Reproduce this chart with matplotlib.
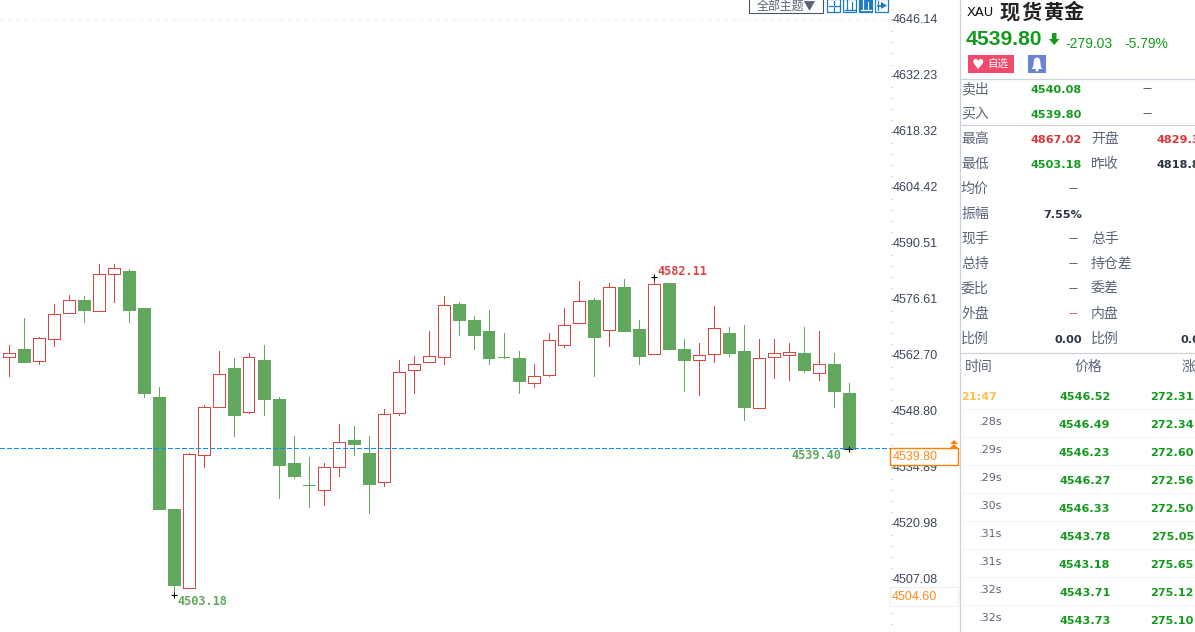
import matplotlib
matplotlib.use("Agg")
import matplotlib.pyplot as plt
from matplotlib.patches import Rectangle, Polygon, Circle
from matplotlib.ticker import AutoMinorLocator
from matplotlib.transforms import ScaledTranslation

CJK = ["Noto Sans CJK SC", "DejaVu Sans"]
plt.rcParams["font.family"] = CJK

# candle values
opens = [4562.3, 4564.4, 4561.3, 4566.8, 4573.2, 4576.6, 4573.7, 4582.9, 4583.8, 4574.4,
         4552.5, 4524.5, 4504.9, 4538.0, 4549.9, 4559.7, 4548.6, 4561.7, 4552.0, 4535.9,
         4530.6, 4529.3, 4535.0, 4541.6, 4538.4, 4531.2, 4548.4, 4559.1, 4561.0, 4562.3,
         4575.6, 4571.6, 4568.9, 4562.4, 4562.2, 4555.8, 4557.8, 4565.3, 4570.7, 4576.6,
         4569.0, 4579.6, 4569.2, 4563.0, 4580.6, 4564.2, 4561.5, 4563.0, 4568.4, 4563.7,
         4549.6, 4562.3, 4562.8, 4563.4, 4558.3, 4560.7, 4553.5]
highs = [4565.4, 4572.1, 4567.4, 4575.6, 4577.8, 4577.4, 4585.3, 4585.5, 4584.1, 4574.6,
         4554.8, 4524.7, 4538.6, 4550.3, 4563.7, 4562.0, 4563.2, 4565.2, 4552.3, 4542.8,
         4537.4, 4536.1, 4545.6, 4545.3, 4542.8, 4549.5, 4561.7, 4562.5, 4568.9, 4577.4,
         4576.1, 4572.4, 4574.1, 4568.4, 4563.7, 4560.7, 4568.4, 4574.4, 4581.1, 4576.9,
         4580.6, 4581.6, 4571.6, 4582.11, 4580.8, 4566.7, 4565.9, 4574.9, 4569.7, 4570.2,
         4566.7, 4566.7, 4565.9, 4569.9, 4568.9, 4563.2, 4555.8]
lows = [4557.5, 4561.2, 4560.7, 4565.0, 4573.2, 4571.1, 4573.7, 4575.9, 4571.1, 4552.5,
        4524.7, 4503.18, 4504.9, 4534.9, 4549.9, 4542.6, 4548.3, 4547.8, 4527.4, 4532.4,
        4525.0, 4525.5, 4532.9, 4537.9, 4523.7, 4530.2, 4548.0, 4553.5, 4561.0, 4560.7,
        4567.9, 4564.2, 4560.5, 4562.0, 4553.5, 4554.8, 4557.5, 4564.7, 4570.7, 4557.7,
        4565.0, 4568.9, 4560.7, 4563.0, 4564.2, 4553.8, 4552.8, 4561.0, 4562.5, 4546.6,
        4549.6, 4557.2, 4556.7, 4558.5, 4556.5, 4550.0, 4539.4]
closes = [4563.4, 4561.2, 4567.1, 4573.1, 4576.5, 4574.1, 4583.0, 4584.5, 4574.1, 4553.3,
          4524.7, 4505.6, 4538.3, 4550.0, 4558.2, 4547.8, 4562.4, 4552.0, 4535.6, 4532.7,
          4530.6, 4535.1, 4541.3, 4540.6, 4530.7, 4548.2, 4558.7, 4560.6, 4562.6, 4575.3,
          4571.6, 4567.7, 4562.2, 4562.4, 4556.3, 4557.7, 4566.6, 4570.3, 4576.3, 4567.4,
          4579.8, 4568.9, 4562.5, 4580.5, 4564.2, 4561.5, 4562.9, 4569.6, 4563.2, 4549.8,
          4562.1, 4563.4, 4563.6, 4559.0, 4560.6, 4554.0, 4539.4]

y_ticks = [4646.14, 4632.23, 4618.32, 4604.42, 4590.51, 4576.61, 4562.70, 4548.80, 4534.89, 4520.98, 4507.08]
last_price = 4539.80
low_idx, high_idx, last_idx = 11, 43, 56

# side panel text
quote_rows = [("卖出", "4540.08", "g"), ("买入", "4539.80", "g"), ("最高", "4867.02", "r"), ("最低", "4503.18", "g"),
              ("均价", "—", "k"), ("振幅", "7.55%", "k"), ("现手", "—", "k"), ("总持", "—", "k"),
              ("委比", "—", "k"), ("外盘", "—", "r"), ("比例", "0.00", "k")]
quote_right = [(2, "开盘", "4829.33", "r"), (3, "昨收", "4818.83", "k"), (6, "总手", "", "k"),
               (7, "持仓差", "", "k"), (8, "委差", "", "k"), (9, "内盘", "", "k"), (10, "比例", "0.00", "k")]
tick_times = ["21:47", ".28s", ".29s", ".29s", ".30s", ".31s", ".31s", ".32s", ".32s"]
tick_prices = ["4546.52", "4546.49", "4546.23", "4546.27", "4546.33", "4543.78", "4543.18", "4543.71", "4543.73"]
tick_changes = ["272.31", "272.34", "272.60", "272.56", "272.50", "275.05", "275.65", "275.12", "275.10"]

RED = "#da4541"
GREEN = "#61a75e"
TXT_GREEN = "#149a1e"
TXT_RED = "#d9343a"
DARK = "#2c3648"
GREY = "#5a6478"
colors = {"g": TXT_GREEN, "r": TXT_RED, "k": DARK}

fig = plt.figure(figsize=(11.95, 6.32), dpi=100)
ax = fig.add_axes([0, 0, 891 / 1195, 1])
ax.set_xlim(-8.5 / 15, (891 - 8.5) / 15)
ax.set_ylim(4632.23 - 556.5 / 4.027, 4632.23 + 75.5 / 4.027)

for i in range(len(opens)):
    up = closes[i] > opens[i]
    c = RED if up else GREEN
    ax.vlines(i, lows[i], highs[i], color=c, lw=0.55, zorder=2, antialiased=False)
    bottom = min(opens[i], closes[i])
    height = abs(closes[i] - opens[i])
    ax.bar(i, height, 12 / 15, bottom=bottom, facecolor="white" if up else c, edgecolor=c, lw=0.55, zorder=3,
           antialiased=False)

ax.axhline(last_price, color="#0a8cff", lw=0.8, ls=(0, (3.6, 2.4)), zorder=4, antialiased=False)
ax.axhline(y_ticks[0], color="#eeeeee", lw=0.7, ls=(0, (4, 4)), zorder=1)

# extreme markers and labels
mono = dict(family="DejaVu Sans Mono", fontweight="bold", fontsize=8.6, va="center", annotation_clip=False)
ax.plot([low_idx, high_idx, last_idx], [lows[low_idx], highs[high_idx], closes[last_idx]], "+",
        color="black", ms=5, mew=0.8, zorder=6)
ax.plot([last_idx - 0.25, last_idx], [closes[last_idx]] * 2, color="black", lw=0.8, zorder=6)
ax.annotate(f"{lows[low_idx]:.2f}", (low_idx, lows[low_idx]), xytext=(3, -4.5), textcoords="offset points",
            color=GREEN, ha="left", **mono)
ax.annotate(f"{highs[high_idx]:.2f}", (high_idx, highs[high_idx]), xytext=(3, 4.5), textcoords="offset points",
            color=RED, ha="left", **mono)
ax.annotate(f"{closes[last_idx]:.2f}", (last_idx, closes[last_idx]), xytext=(-5, -4.3), textcoords="offset points",
            color=GREEN, ha="right", **mono)

for s in ax.spines.values():
    s.set_visible(False)
ax.set_xticks([])
ax.yaxis.tick_right()
ax.set_yticks(y_ticks)
ax.set_yticklabels([f"{v:.2f}" for v in y_ticks], family="Liberation Sans", fontsize=9, color="#3c4658")
ax.yaxis.set_minor_locator(AutoMinorLocator(5))
ax.tick_params(axis="y", which="major", length=1.5, width=0.7, color="#aaaaaa", pad=0)
ax.tick_params(axis="y", which="minor", length=0.8, width=0.7, color="#aaaaaa")
for lab in ax.get_yticklabels():
    lab.set_transform(lab.get_transform() + ScaledTranslation(0, 0.8 / 72, fig.dpi_scale_trans))

# everything outside the plot, in pixels
ov = fig.add_axes([0, 0, 1, 1], zorder=5)
ov.set_xlim(0, 1195)
ov.set_ylim(632, 0)
ov.axis("off")
ov.patch.set_alpha(0)

LINE = "#ccd3dc"
ov.plot([960.5, 960.5], [0, 632], color=LINE, lw=0.9)
for y in [78.5, 124.5, 352.5]:
    ov.plot([961, 1195], [y, y], color=LINE, lw=0.9)
for k in range(8):
    ov.plot([961, 1195], [408.5 + 28 * k] * 2, color="#f4f4f4", lw=0.8)

# toolbar
ov.add_patch(Rectangle((749.5, -2), 74, 15, fc="white", ec="#4a5568", lw=0.8))
ov.text(786, 6, "全部主题▼", fontsize=8.6, color=GREY, ha="center", va="center", family=CJK)
BLUE = "#1a7bc4"
for x0, filled in [(827, False), (843, False), (859, True), (875, False)]:
    ov.add_patch(Rectangle((x0 + 0.5, -1), 13, 13, fc=BLUE if filled else "white", ec=BLUE, lw=0.9))
    mark = "white" if filled else BLUE
    if x0 == 827:
        ov.plot([x0 + 7, x0 + 7], [1, 5], color=mark, lw=0.9)
        ov.plot([x0 + 7, x0 + 7], [7, 11], color=mark, lw=0.9)
        ov.plot([x0 + 2, x0 + 6], [6, 6], color=mark, lw=0.9)
        ov.plot([x0 + 8, x0 + 12], [6, 6], color=mark, lw=0.9)
    elif x0 == 875:
        ov.add_patch(Polygon([(x0 + 6, 2), (x0 + 12, 5.5), (x0 + 6, 9)], fc=mark, ec="none"))
        ov.plot([x0 + 3, x0 + 7], [5.5, 5.5], color=mark, lw=1.2)
        ov.plot([x0 + 3, x0 + 3], [1, 10], color=mark, lw=0.9)
    else:
        ov.plot([x0 + 4, x0 + 4], [0, 10], color=mark, lw=0.9)
        ov.plot([x0 + 9, x0 + 9], [2, 10], color=mark, lw=0.9)
        ov.plot([x0 + 2, x0 + 12], [10, 10], color=mark, lw=0.9)

# header
ov.text(967, 12.5, "XAU", fontsize=9.4, color="#111111", family="DejaVu Sans", va="center")
for k, ch in enumerate("现货黄金"):
    ov.text(1000 + 21.3 * k, 12, ch, fontsize=14.5, color="#222222", fontweight="bold", va="center", family=CJK)
ov.text(966, 39.5, f"{last_price:.2f}", fontsize=15.2, color=TXT_GREEN, fontweight="bold", family="Liberation Sans", va="center")
ov.add_patch(Polygon([(1052, 33), (1056.5, 33), (1056.5, 39), (1059.5, 39), (1054.2, 45), (1049, 39), (1052, 39)],
                     fc=TXT_GREEN, ec="none"))
ov.text(1065, 43.5, "-279.03", fontsize=10, color=TXT_GREEN, family="Liberation Sans", va="center")
ov.text(1124, 43.5, "-5.79%", fontsize=10, color=TXT_GREEN, family="Liberation Sans", va="center")

ov.add_patch(Rectangle((968, 55), 46, 18, fc="#ef4a6b", ec="none"))
ov.text(978, 65, "♥", fontsize=10, color="white", family="DejaVu Sans", ha="center", va="center")
ov.text(987, 64, "自选", fontsize=7.6, color="white", va="center", family=CJK)
ov.add_patch(Rectangle((1028, 55), 18, 18, fc="#6a82d8", ec="none"))
ov.add_patch(Polygon([(1034, 60), (1040, 60), (1041, 67), (1042.5, 69), (1031.5, 69), (1033, 67)], fc="white", ec="none"))
ov.add_patch(Circle((1037, 60.5), 3, fc="white", ec="none"))
ov.add_patch(Circle((1037, 70), 1.5, fc="white", ec="none"))

# quote table
row_y = [89 + 25 * k for k in range(11)]
num = dict(family="DejaVu Sans", fontweight="bold", fontsize=8.1, va="center")
for y, (name, val, c) in zip(row_y, quote_rows):
    ov.text(961, y, name, fontsize=10, color=GREY, va="center", family=CJK)
    if val == "—":
        ov.text(1078, y - 0.5, val, fontsize=6.5, color=colors[c], ha="right", va="center", family="DejaVu Sans")
    else:
        ov.text(1082, y + 0.8, val, color=colors[c], ha="right", **num)
for y in row_y[:2]:
    ov.text(1152, y - 0.5, "—", fontsize=6.5, color=DARK, ha="right", va="center", family="DejaVu Sans")
for k, name, val, c in quote_right:
    ov.text(1091, row_y[k], name, fontsize=10, color=GREY, va="center", family=CJK)
    if val:
        left = 1181 if val == "0.00" else 1156.5
        ov.text(left, row_y[k] + 0.8, val, color=colors[c], ha="left", **num)

# tick list
ov.text(965, 367, "时间", fontsize=10, color=GREY, va="center", family=CJK)
ov.text(1088, 367, "价格", fontsize=10, color=GREY, va="center", ha="center", family=CJK)
ov.text(1181.5, 367, "涨跌", fontsize=10, color=GREY, va="center", family=CJK)
for k in range(len(tick_prices)):
    y = 396.8 + 28 * k
    if k == 0:
        ov.text(961.5, y, tick_times[k], color="#ffc04d", ha="left", **num)
    else:
        ov.text(979, y - 2.5, tick_times[k], fontsize=8, color=GREY, va="center", family="DejaVu Sans")
    ov.text(1110.5, y, tick_prices[k], color=TXT_GREEN, ha="right", **num)
    ov.text(1194, y, tick_changes[k], color=TXT_GREEN, ha="right", **num)

# last price boxes
ORANGE = "#ff8000"
ov.add_patch(Rectangle((890.5, 448), 68, 17, fc="white", ec=ORANGE, lw=1.0))
ov.text(893, 457, f"{last_price:.2f}", fontsize=9, color="#ff8a1e", family="Liberation Sans", va="center")
ov.add_patch(Polygon([(950, 444), (954, 440), (958, 444)], fc=ORANGE, ec="none"))
ov.add_patch(Polygon([(950, 448), (954, 444), (958, 448)], fc=ORANGE, ec="none"))
ov.add_patch(Rectangle((890.5, 587), 67.5, 19, fc="white", ec="#eeeeee", lw=0.8))
ov.text(892, 597.5, "4504.60", fontsize=9, color="#ff8a1e", family="Liberation Sans", va="center")

fig.savefig("out.png", dpi=100)
